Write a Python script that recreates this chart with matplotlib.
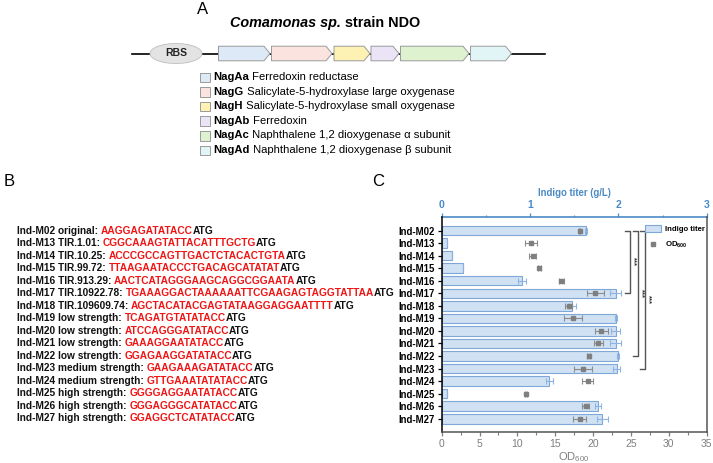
import matplotlib
matplotlib.use("Agg")
import matplotlib.pyplot as plt
from matplotlib.patches import Ellipse, Polygon, Rectangle, Patch
from matplotlib.lines import Line2D
from matplotlib.ticker import MultipleLocator

plt.rcParams['font.family'] = ['Liberation Sans', 'DejaVu Sans']
plt.rcParams['mathtext.fontset'] = 'custom'
plt.rcParams['mathtext.rm'] = 'Liberation Sans'
plt.rcParams['mathtext.bf'] = 'Liberation Sans:bold'

# ---------------- data ----------------
gene_names = ["NagAa", "NagG", "NagH", "NagAb", "NagAc", "NagAd"]
gene_desc = ["Ferredoxin reductase",
             "Salicylate-5-hydroxylase large oxygenase",
             "Salicylate-5-hydroxylase small oxygenase",
             "Ferredoxin",
             "Naphthalene 1,2 dioxygenase \u03b1 subunit",
             "Naphthalene 1,2 dioxygenase \u03b2 subunit"]
gene_colors = ["#dde9f6", "#fbe3df", "#fdf1b3", "#ebe3f6", "#def2cf", "#e1f5f7"]

strains = ["Ind-M02", "Ind-M13", "Ind-M14", "Ind-M15", "Ind-M16", "Ind-M17",
           "Ind-M18", "Ind-M19", "Ind-M20", "Ind-M21", "Ind-M22", "Ind-M23",
           "Ind-M24", "Ind-M25", "Ind-M26", "Ind-M27"]
rbs_desc = ["original", "TIR.1.01", "TIR.10.25", "TIR.99.72", "TIR.913.29",
            "TIR.10922.78", "TIR.109609.74", "low strength", "low strength",
            "low strength", "low strength", "medium strength", "medium strength",
            "high strength", "high strength", "high strength"]
rbs_seq = ["AAGGAGATATACC", "CGGCAAAGTATTACATTTGCTG", "ACCCGCCAGTTGACTCTACACTGTA",
           "TTAAGAATACCCTGACAGCATATAT", "AACTCATAGGGAAGCAGGCGGAATA",
           "TGAAAGGACTAAAAAATTCGAAGAGTAGGTATTAA", "AGCTACATACGAGTATAAGGAGGAATTTT",
           "TCAGATGTATATACC", "ATCCAGGGATATACC", "GAAAGGAATATACC", "GGAGAAGGATATACC",
           "GAAGAAAGATATACC", "GTTGAAATATATACC", "GGGGAGGAATATACC", "GGGAGGGCATATACC",
           "GGAGGCTCATATACC"]

indigo = [1.63, 0.06, 0.12, 0.245, 0.91, 1.97, 1.48, 1.97, 1.97, 1.97, 2.00, 1.98,
          1.22, 0.06, 1.77, 1.82]
indigo_err = [0.01, 0.0, 0.0, 0.0, 0.045, 0.06, 0.04, 0.01, 0.05, 0.064, 0.01, 0.04,
              0.035, 0.0, 0.03, 0.06]
od600 = [18.2, 11.8, 12.0, 12.9, 15.8, 20.3, 16.8, 17.3, 21.1, 20.7, 19.4, 18.7,
         19.3, 11.1, 19.0, 18.2]
od600_err = [0.1, 0.77, 0.5, 0.15, 0.3, 1.14, 0.46, 1.2, 0.9, 0.57, 0.15, 1.2,
             0.72, 0.1, 0.44, 0.8]
# significance brackets: (from index, to index)
sig_pairs = [(0, 5), (0, 10), (0, 11)]
sig_labels = ["***", "***", "***"]

W, H = 713, 463
fig = plt.figure(figsize=(W / 100, H / 100), dpi=100)
ov = fig.add_axes([0, 0, 1, 1])
ov.set_xlim(0, W)
ov.set_ylim(H, 0)
ov.axis('off')


def rich(x, y, parts, fontsize, va='center'):
    t = None
    for s, kw in parts:
        if t is None:
            t = ov.text(x, y, s, fontsize=fontsize, ha='left', va=va, **kw)
        else:
            t = ov.annotate(s, xy=(1, 0), xycoords=t, fontsize=fontsize,
                            ha='left', va='bottom', **kw)
    return t


# ---------------- panel labels ----------------
ov.text(203, 10, "A", fontsize=12, ha='center', va='center')
ov.text(9, 182, "B", fontsize=12, ha='center', va='center')
ov.text(378, 182, "C", fontsize=12, ha='center', va='center')

# ---------------- panel A ----------------
rich(230, 23, [("Comamonas sp.", dict(fontweight='bold', fontstyle='italic')),
               (" strain NDO", dict(fontweight='bold'))], fontsize=10.4)
gy = 53.5
ov.plot([132, 545], [gy, gy], color='black', lw=1.2, zorder=1)
ov.add_patch(Ellipse((176, gy), 52, 20, facecolor='#e3e3e3', edgecolor='#bdbdbd',
                     lw=0.6, zorder=2))
ov.text(176, gy, "RBS", fontsize=7.5, fontweight='bold', ha='center', va='center',
        color='#222222', zorder=3)
gene_bounds = [(218.5, 270), (271.5, 332), (334, 370), (371, 399), (400.5, 469),
               (470.5, 511.5)]
hh = 7.3
tip = 6
for (x0, x1), c in zip(gene_bounds, gene_colors):
    poly = Polygon([(x0, gy - hh), (x1 - tip, gy - hh), (x1, gy), (x1 - tip, gy + hh),
                    (x0, gy + hh)], closed=True, facecolor=c, edgecolor='#9a9a9a',
                   lw=0.7, zorder=3)
    ov.add_patch(poly)

ly0, ldy = 77.3, 14.55
for i, (n, d, c) in enumerate(zip(gene_names, gene_desc, gene_colors)):
    yy = ly0 + i * ldy
    ov.add_patch(Rectangle((200, yy - 4.5), 9.5, 9.5, facecolor=c, edgecolor='#9a9a9a',
                           lw=0.7))
    rich(213.5, yy, [(n, dict(fontweight='bold')), (" " + d, dict())], fontsize=8.1)

# ---------------- panel B ----------------
by0, bdy = 231, 12.49
for i, (s, d, q) in enumerate(zip(strains, rbs_desc, rbs_seq)):
    rich(17, by0 + i * bdy,
         [(f"{s} {d}: ", dict(fontweight='bold', color='#111111')),
          (q, dict(fontweight='bold', color='#f01414')),
          ("ATG", dict(fontweight='bold', color='#111111'))], fontsize=7.3)

# ---------------- panel C ----------------
blue = '#4a8ac6'
grey = '#7f7f7f'
ax = fig.add_axes([441.7 / W, 1 - 432 / H, 265 / W, (432 - 216.7) / H])
ax2 = ax.twiny()
ypos = list(range(len(strains)))

ax2.barh(ypos, indigo, height=0.76, color='#cfe1f2', edgecolor='#7fa8d8', lw=0.8,
         zorder=2)
ax2.errorbar(indigo, ypos, xerr=indigo_err, fmt='none', ecolor='#8db4e2',
             elinewidth=0.8, capsize=2.5, capthick=0.8, zorder=3)
ax2.set_xlim(0, 3)
ax2.set_xticks([0, 1, 2, 3])
ax2.xaxis.set_minor_locator(MultipleLocator(0.5))
ax2.tick_params(axis='x', colors=blue, labelsize=7.5, width=0.9, length=3,
                direction='out', pad=1.5)
ax2.tick_params(axis='x', which='minor', colors=blue, width=0.8, length=1.8)
for lab in ax2.get_xticklabels():
    lab.set_fontweight('bold')
ax2.set_xlabel("Indigo titer (g/L)", color=blue, fontsize=6.9, fontweight='bold',
               labelpad=3.5)
ax2.spines['top'].set_color(blue)
ax2.spines['top'].set_linewidth(1.2)

ax.set_zorder(ax2.get_zorder() + 1)
ax.patch.set_visible(False)
ax.errorbar(od600, ypos, xerr=od600_err, fmt='s', ms=3.2, color=grey, mfc=grey,
            mec=grey, ecolor='#8c8c8c', elinewidth=0.8, capsize=2.5, capthick=0.8,
            zorder=4)
ax.set_xlim(0, 35)
ax.set_ylim(16.05, -1.1)
ax.set_xticks(range(0, 36, 5))
ax.xaxis.set_minor_locator(MultipleLocator(2.5))
ax.tick_params(axis='x', colors=grey, labelsize=7.5, width=0.9, length=3, pad=2)
ax.tick_params(axis='x', which='minor', colors=grey, width=0.8, length=1.8)
ax.set_yticks(ypos)
ax.set_yticklabels(strains, fontsize=6.9, fontweight='bold')
ax.tick_params(axis='y', length=3, width=0.9, pad=2)
ax.set_xlabel("OD$_{600}$", color=grey, fontsize=8, labelpad=1)
ax.spines['left'].set_linewidth(1.1)
ax.spines['bottom'].set_color('#555555')
ax.spines['bottom'].set_linewidth(1.1)
ax.spines['right'].set_color('#555555')
ax.spines['right'].set_linewidth(1.1)
ax.spines['top'].set_visible(False)
for sp in ['left', 'bottom', 'right']:
    ax2.spines[sp].set_visible(False)

# significance brackets
bx = [24.9, 25.9, 26.9]
for (a, b), lab, x in zip(sig_pairs, sig_labels, bx):
    ax.plot([x - 0.65, x, x, x - 0.65], [a, a, b, b], color='#555555', lw=1.0,
            zorder=5)
    ax.text(x + 0.42, (a + b) / 2, lab, rotation=270, fontsize=5.5, fontweight='bold',
            ha='center', va='center', color='#333333')

handles = [Patch(facecolor='#cfe1f2', edgecolor='#7fa8d8', lw=0.8),
           Line2D([], [], marker='s', ls='none', color=grey, ms=3.0)]
leg = ax.legend(handles, ["Indigo titer", r"$\mathbf{OD_{600}}$"], loc='upper right',
                bbox_to_anchor=(1.0, 0.97), frameon=False, fontsize=5.6,
                handlelength=2.1, handleheight=0.9, handletextpad=0.45,
                labelspacing=0.9, borderaxespad=0.0, borderpad=0.25)
for t in leg.get_texts():
    t.set_fontweight('bold')

fig.savefig("out.png", dpi=100)
